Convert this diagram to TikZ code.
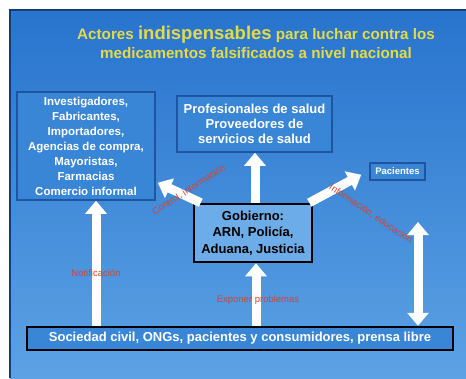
\documentclass[tikz,border=0pt]{standalone}
\usepackage{fontspec}
\setmainfont{Liberation Sans}
\usetikzlibrary{positioning, arrows.meta}

\definecolor{slidetop}{RGB}{40,116,206}
\definecolor{slidebot}{RGB}{92,162,228}
\definecolor{slideedge}{RGB}{20,60,120}
\definecolor{boxfill}{RGB}{58,134,214}
\definecolor{boxline}{RGB}{30,84,160}
\definecolor{govfill}{RGB}{108,172,232}
\definecolor{titleyellow}{RGB}{228,218,72}
\definecolor{notered}{RGB}{205,70,55}

\begin{document}
\begin{tikzpicture}[x=1pt, y=-1pt,
  box/.style={rectangle, draw=boxline, line width=1.5pt, fill=boxfill, text=white, align=center, inner sep=0pt, font=\bfseries\fontsize{11.5}{15}\selectfont},
  govbox/.style={rectangle, draw=black, line width=2.5pt, align=center, inner sep=0pt, font=\bfseries\fontsize{13}{16.5}\selectfont},
  bigarrow/.style={draw=white, line width=9pt, -{Triangle[length=13pt, width=21pt]}},
  note/.style={text=notered, font=\fontsize{9.5}{10}\selectfont}]
\useasboundingbox (0,0) rectangle (466,378);
\fill[white] (0,0) rectangle (466,378);
\shade[top color=slidetop, bottom color=slidebot] (10,10) rectangle (466,378);
\draw[slideedge, line width=1.5pt] (10,378) -- (10,10) -- (466,10);

% title
\node[text=titleyellow, align=center, font=\bfseries\fontsize{15.2}{19}\selectfont] (title) at (256,42)
  {Actores {\fontsize{18.5}{19}\selectfont indispensables} para luchar contra los\\medicamentos falsificados a nivel nacional};

% actors
\node[box, minimum width=138, minimum height=108] (actors) at (86,146)
  {Investigadores,\\Fabricantes,\\Importadores,\\Agencias de compra,\\Mayoristas,\\Farmacias\\Comercio informal};
\node[box, minimum width=155, minimum height=56, font=\bfseries\fontsize{13}{15}\selectfont] (prof) at (254.5,124)
  {Profesionales de salud\\Proveedores de\\servicios de salud};
\node[box, minimum width=55, minimum height=17, font=\bfseries\fontsize{9.5}{10}\selectfont] (pac) at (397.5,171.5) {Pacientes};
\node[govbox, fill=govfill, minimum width=118, minimum height=58] (gob) at (253,233)
  {Gobierno:\\ARN, Policía,\\Aduana, Justicia};
\node[govbox, fill=boxfill, text=white, minimum width=426, minimum height=23] (soc) at (240,338.5)
  {Sociedad civil, ONGs, pacientes y consumidores, prensa libre};
\coordinate (pactop) at (418,222);

% arrows
\draw[bigarrow] (soc.north -| 96,0) -- (actors.south -| 96,0);
\draw[bigarrow] (soc.north -| 256,0) -- (gob.south -| 256,0);
\draw[bigarrow] (gob.north -| 255,0) -- (prof.south -| 255,0);
\draw[bigarrow] ([xshift=8pt]gob.north west) -- ([xshift=2pt, yshift=18pt]actors.south east);
\draw[bigarrow] ([xshift=-4pt]gob.north east) -- ([xshift=-8pt, yshift=6pt]pac.south west);
\draw[bigarrow, {Triangle[length=13pt, width=21pt]}-{Triangle[length=13pt, width=21pt]}] (soc.north -| pactop) -- (pactop);

% labels
\node[note] (notif) at (96,273) {Notificación};
\node[note] (expon) at (258,300) {Exponer problemas};
\node[note, rotate=33] (ctrl) at (189,190) {Control, información};
\node[note, rotate=-34] (info) at (371,214) {Información, educación};
\end{tikzpicture}
\end{document}
